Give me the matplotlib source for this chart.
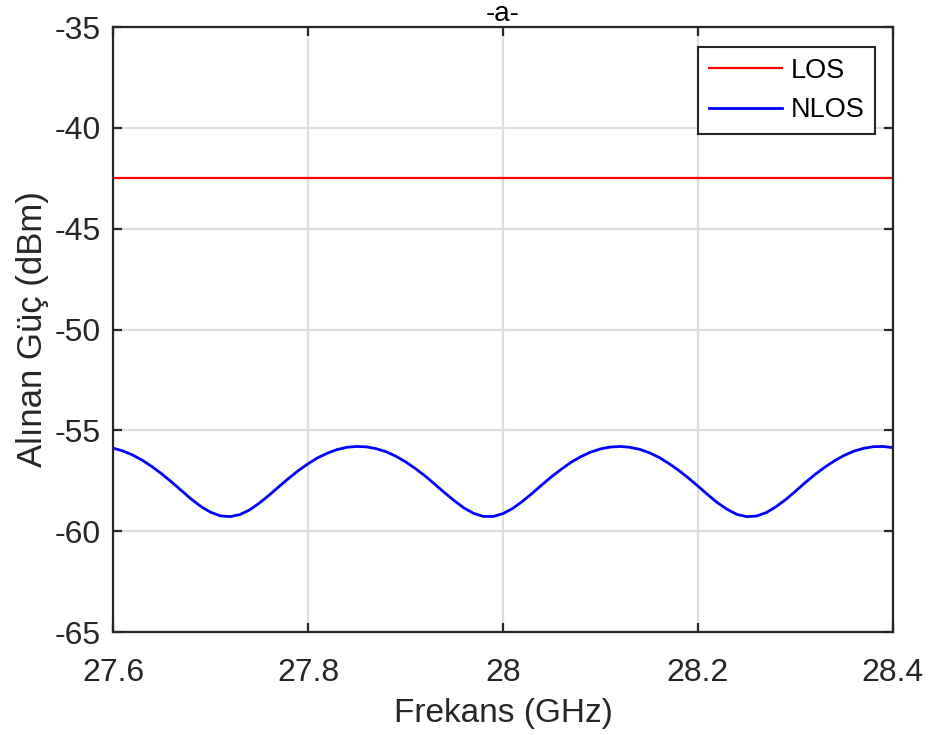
"""Received power vs frequency, LOS / NLOS comparison (-a-)."""

import matplotlib

matplotlib.use("Agg")

import matplotlib.pyplot as plt
import numpy as np

# frequency axis (GHz), 0.01 GHz steps
freq_ghz = np.round(np.arange(27.60, 28.405, 0.01), 2)

# LOS level is flat
los_level_dbm = -42.5

# NLOS received power (dBm)
nlos_dbm = [
    -55.88, -56.02, -56.22, -56.48, -56.80, -57.16, -57.56, -57.98, -58.40, -58.77,
    -59.06, -59.24, -59.28, -59.18, -58.95, -58.61, -58.22, -57.80, -57.39, -57.00,
    -56.66, -56.36, -56.13, -55.95, -55.84, -55.80, -55.82, -55.91, -56.06, -56.28,
    -56.56, -56.89, -57.26, -57.67, -58.09, -58.49, -58.85, -59.12, -59.27, -59.27,
    -59.13, -58.87, -58.52, -58.12, -57.70, -57.29, -56.92, -56.58, -56.30, -56.08,
    -55.92, -55.83, -55.80, -55.84, -55.94, -56.11, -56.34, -56.64, -56.98, -57.36,
    -57.77, -58.19, -58.59, -58.92, -59.17, -59.28, -59.25, -59.08, -58.79, -58.43,
    -58.02, -57.59, -57.19, -56.83, -56.51, -56.24, -56.03, -55.89, -55.81, -55.80,
    -55.86,
]

x_ticks = [27.6, 27.8, 28.0, 28.2, 28.4]
x_tick_labels = ["27.6", "27.8", "28", "28.2", "28.4"]
y_ticks = [-65, -60, -55, -50, -45, -40, -35]

plt.rcParams["font.family"] = ["Liberation Sans", "DejaVu Sans"]
plt.rcParams["axes.unicode_minus"] = False

fig = plt.figure(figsize=(9.32, 7.35), dpi=100)
ax = fig.add_axes([113 / 932, 103 / 735, 780 / 932, 605 / 735])

ax.plot(freq_ghz, np.full(len(freq_ghz), los_level_dbm), color="#ff0000", linewidth=1.6, label="LOS")
ax.plot(freq_ghz, nlos_dbm, color="#0000ff", linewidth=2.0, label="NLOS")

ax.set_xlim(27.6, 28.4)
ax.set_ylim(-65, -35)
ax.set_xticks(x_ticks)
ax.set_xticklabels(x_tick_labels)
ax.set_yticks(y_ticks)

ax.grid(True, color="#dedede", linewidth=1.6)
ax.set_axisbelow(True)
for spine in ax.spines.values():
    spine.set_linewidth(1.6)
    spine.set_color("#262626")
ax.tick_params(direction="in", length=6.5, width=1.6, color="#262626",
               top=True, right=True, labelsize=23, labelcolor="#262626")
ax.tick_params(axis="x", pad=19)
ax.tick_params(axis="y", pad=9)

ax.set_xlabel("Frekans (GHz)", fontsize=24, color="#262626", labelpad=7)
ax.set_ylabel("Alınan Güç (dBm)", fontsize=25, color="#262626", labelpad=4)
ax.set_title("-a-", fontsize=20, color="black", pad=4)

leg = ax.legend(loc="upper right", bbox_to_anchor=(0.977, 0.967), borderaxespad=0,
                fontsize=19.5, handlelength=2.7, handletextpad=0.3, borderpad=0.4,
                labelspacing=0.5, fancybox=False, framealpha=1)
leg.get_frame().set_edgecolor("#262626")
leg.get_frame().set_linewidth(1.5)

fig.savefig("out.png", dpi=100)
plt.close(fig)
